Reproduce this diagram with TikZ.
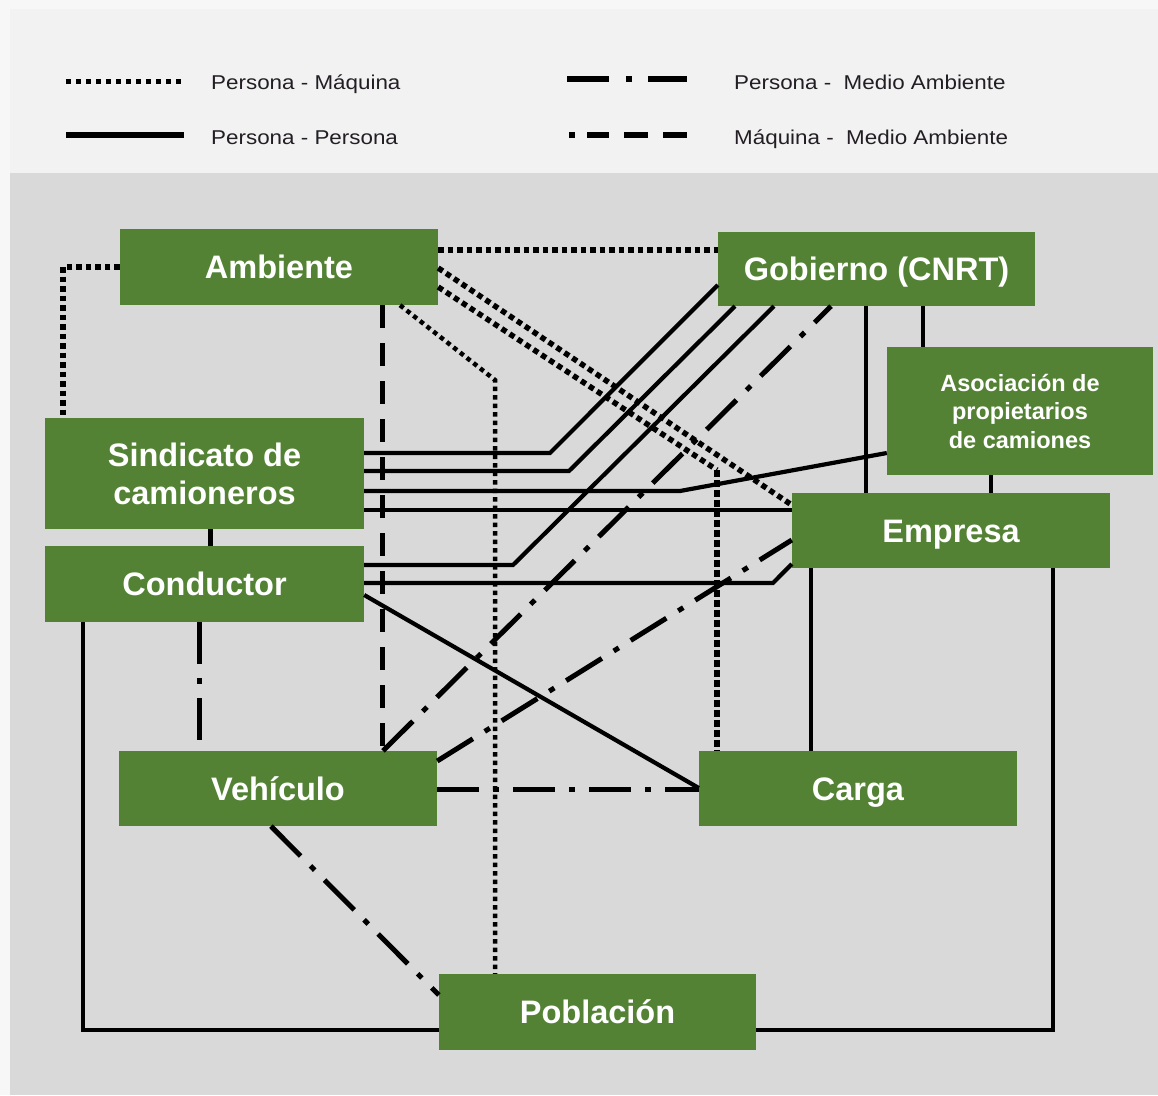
\documentclass[tikz,border=0pt]{standalone}
\usepackage{fontspec}
\setmainfont{Liberation Sans}
\definecolor{boxgreen}{RGB}{84,130,53}
\definecolor{panelA}{RGB}{242,242,242}
\definecolor{panelB}{RGB}{217,217,217}
\definecolor{outerbg}{RGB}{247,247,247}
\definecolor{legtext}{RGB}{34,30,36}
\begin{document}
\begin{tikzpicture}[x=1pt,y=-1pt,
  box/.style={fill=boxgreen, text=white, inner sep=0pt, align=center,
    font=\bfseries\fontsize{32.5}{38}\selectfont},
  onebox/.style={box, text height=23.3pt, text depth=0pt},
  boxsmall/.style={box, font=\bfseries\fontsize{23.5}{28.5}\selectfont},
  legtxt/.style={anchor=base west, inner sep=0pt, text=legtext,
    font=\fontsize{20}{24}\selectfont},
  pp/.style={draw=black, line width=4.2pt},
  pmach/.style={draw=black, line width=5.5pt, dash pattern=on 5.5pt off 4pt},
  pmachthin/.style={draw=black, line width=4.5pt, dash pattern=on 4.5pt off 4pt},
  pmachthick/.style={draw=black, line width=6.5pt, dash pattern=on 6.5pt off 3.5pt},
  pmed/.style={draw=black, line width=5pt, dash pattern=on 42pt off 14pt on 6pt off 14pt},
  mmed/.style={draw=black, line width=5pt, dash pattern=on 23pt off 15pt}]
\useasboundingbox (0,0) rectangle (1158,1095);
% backgrounds
\fill[outerbg] (0,0) rectangle (1158,1095);
\fill[panelA] (10,9) rectangle (1158,173);
\fill[panelB] (10,173) rectangle (1158,1095);

% legend
\coordinate (l1a) at (66,81); \coordinate (l1b) at (184,81);
\coordinate (l2a) at (66,135); \coordinate (l2b) at (184,135);
\coordinate (l3a) at (567,79); \coordinate (l3b) at (687,79);
\coordinate (l4a) at (569,135); \coordinate (l4b) at (687,135);
\draw[line width=5pt, dash pattern=on 5pt off 5pt] (l1a) -- (l1b);
\draw[line width=6pt] (l2a) -- (l2b);
\draw[line width=6pt, dash pattern=on 42pt off 17pt on 6pt off 16pt] (l3a) -- (l3b);
\draw[line width=6pt, dash pattern=on 6pt off 12pt on 22pt off 15pt on 24pt off 15pt on 24pt off 20pt] (l4a) -- (l4b);
\node[legtxt] (t1) at (211,89) {\scalebox{1.12}[1]{Persona - Máquina}};
\node[legtxt] (t2) at (211,144) {\scalebox{1.12}[1]{Persona - Persona}};
\node[legtxt] (t3) at (734,89) {\scalebox{1.12}[1]{Persona -~ Medio Ambiente}};
\node[legtxt] (t4) at (734,144) {\scalebox{1.12}[1]{Máquina -~ Medio Ambiente}};

% nodes
\node[onebox, minimum width=318pt, minimum height=76pt] (amb) at (279,267) {Ambiente};
\node[onebox, minimum width=317pt, minimum height=74pt] (gob) at (876.5,269) {Gobierno (CNRT)};
\node[boxsmall, minimum width=266pt, minimum height=128pt] (aso) at (1020,411) {Asociación de\\propietarios\\de camiones};
\node[box, minimum width=319pt, minimum height=111pt] (sin) at (204.5,473.5) {Sindicato de\\camioneros};
\node[onebox, minimum width=318pt, minimum height=75pt] (emp) at (951,530.5) {Empresa};
\node[onebox, minimum width=319pt, minimum height=76pt] (con) at (204.5,584) {Conductor};
\node[onebox, minimum width=318pt, minimum height=75pt] (veh) at (278,788.5) {Vehículo};
\node[onebox, minimum width=318pt, minimum height=75pt] (car) at (858,788.5) {Carga};
\node[onebox, minimum width=317pt, minimum height=76pt] (pob) at (597.5,1012) {Población};

% bend points
\coordinate (k1) at (550,453);
\coordinate (k2) at (569,471);
\coordinate (k3) at (680,491);
\coordinate (k5) at (513,565);
\coordinate (k6) at (773,583);
\coordinate (k13) at (1053,1030);
\coordinate (k14) at (83,1030);
\coordinate (k16) at (63,267);
\coordinate (k18) at (717,470);
\coordinate (k19) at (495,380);

% Persona - Persona
\draw[pp] (sin.east |- 0,453) -- (k1) -- (gob.west |- 0,285);
\draw[pp] (sin.east |- 0,471) -- (k2) -- (gob.south -| 735,0);
\draw[pp] (sin.east |- 0,491) -- (k3) -- (aso.west |- 0,453);
\draw[pp] (sin.east |- 0,510) -- (emp.west |- 0,510);
\draw[pp] (con.east |- 0,565) -- (k5) -- (gob.south -| 774,0);
\draw[pp] (con.east |- 0,583) -- (k6) -- (emp.west |- 0,564);
\draw[pp] (con.east |- 0,595) -- (car.west |- 0,788);
\draw[pp, line width=5pt] (sin.south -| 210,0) -- (con.north -| 210,0);
\draw[pp] (gob.south -| 866,0) -- (emp.north -| 866,0);
\draw[pp] (gob.south -| 923,0) -- (aso.north -| 923,0);
\draw[pp] (aso.south -| 991,0) -- (emp.north -| 991,0);
\draw[pp] (emp.south -| 811,0) -- (car.north -| 811,0);
\draw[pp] (emp.south -| 1053,0) -- (k13) -- (pob.east |- 0,1030);
\draw[pp] (con.south -| 83,0) -- (k14) -- (pob.west |- 0,1030);

% Persona - Maquina
\draw[pmach] (amb.east |- 0,250) -- (gob.west |- 0,250);
\draw[pmach] (amb.west |- 0,267) -- (k16) -- (sin.north -| 63,0);
\draw[pmach] (amb.east |- 0,268) -- (emp.west |- 0,505);
\draw[pmach] (amb.east |- 0,287) -- (k18);
\draw[pmachthick] (k18) -- (car.north -| 717,0);
\draw[pmachthin] (amb.south -| 400,0) -- (k19) -- (pob.north -| 495,0);

% Persona - Medio Ambiente
\draw[pmed] (con.south -| 199,0) -- (veh.north -| 199,0);
\draw[pmed] (veh.east |- 0,789) -- (car.west |- 0,789);
\draw[pmed] (veh.south -| 271,0) -- (pob.west |- 0,995);
\draw[pmed] (veh.north -| 383,0) -- (gob.south -| 831,0);
\draw[pmed] (veh.east |- 0,761) -- (emp.west |- 0,540);

% Maquina - Medio Ambiente
\draw[mmed] (amb.south -| 382,0) -- (veh.north -| 382,0);
\end{tikzpicture}
\end{document}
